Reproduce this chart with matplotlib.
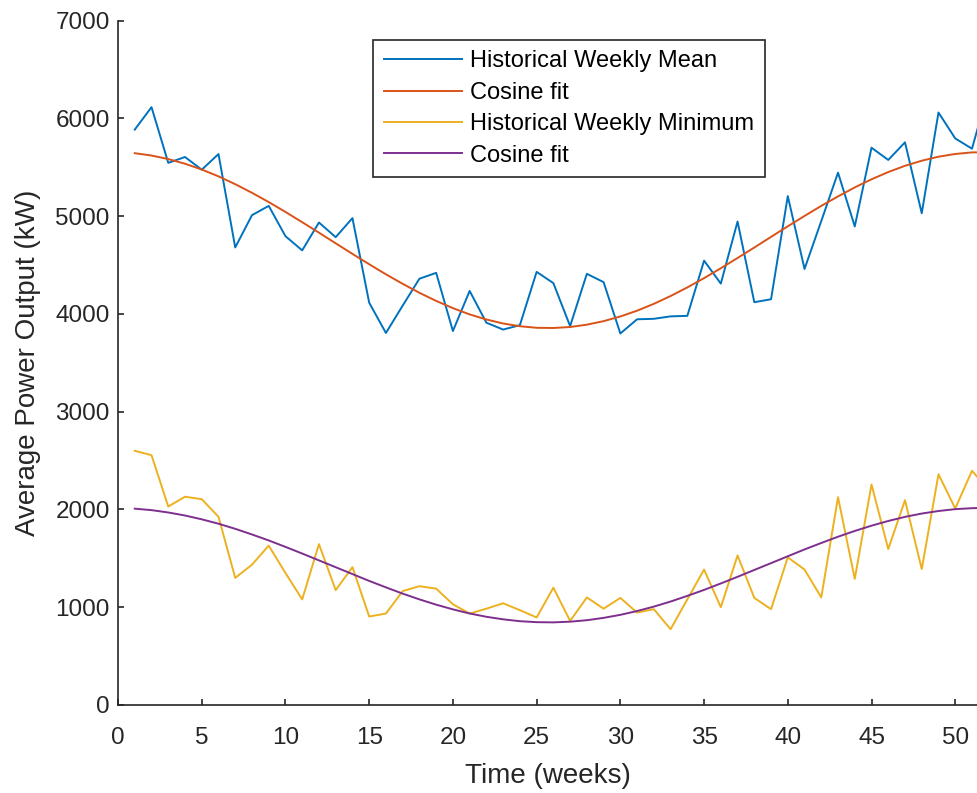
import matplotlib
matplotlib.use("Agg")
import matplotlib.pyplot as plt
import numpy as np

plt.rcParams['font.family'] = ['Liberation Sans', 'DejaVu Sans']

weeks = np.arange(1, 53)

# historical weekly mean (kW)
mean_hist = [5885, 6115, 5545, 5605, 5475, 5635, 4680, 5010, 5105, 4795,
             4650, 4935, 4785, 4980, 4115, 3805, 4085, 4360, 4420, 3825,
             4235, 3910, 3840, 3885, 4430, 4315, 3875, 4410, 4325, 3800,
             3945, 3950, 3975, 3980, 4545, 4310, 4945, 4120, 4150, 5205,
             4460, 4950, 5445, 4895, 5700, 5575, 5755, 5030, 6060, 5795,
             5690, 6300]
mean_fit = [5644, 5620, 5584, 5536, 5477, 5407, 5327, 5239, 5144, 5043,
            4938, 4831, 4722, 4614, 4508, 4405, 4308, 4216, 4133, 4059,
            3995, 3943, 3902, 3874, 3858, 3856, 3866, 3890, 3926, 3974,
            4033, 4103, 4183, 4271, 4366, 4467, 4572, 4679, 4788, 4896,
            5002, 5105, 5202, 5294, 5377, 5451, 5515, 5567, 5608, 5636,
            5652, 5654]
# historical weekly minimum (kW)
min_hist = [2600, 2555, 2030, 2130, 2105, 1925, 1300, 1435, 1630, 1350,
            1080, 1645, 1175, 1410, 905, 935, 1165, 1215, 1190, 1030,
            935, 985, 1040, 970, 895, 1200, 860, 1100, 985, 1095,
            945, 980, 775, 1080, 1385, 1000, 1530, 1095, 980, 1510,
            1385, 1100, 2125, 1290, 2255, 1595, 2095, 1390, 2360, 2010,
            2395, 2200]
# cosine fit of the minimum
min_fit = [2008, 1993, 1969, 1938, 1899, 1854, 1802, 1744, 1683, 1617,
           1549, 1479, 1409, 1339, 1269, 1203, 1139, 1080, 1026, 978,
           936, 902, 876, 857, 847, 845, 852, 867, 891, 922,
           961, 1006, 1058, 1116, 1177, 1243, 1311, 1381, 1451, 1521,
           1591, 1657, 1721, 1780, 1834, 1882, 1924, 1958, 1984, 2003,
           2013, 2015]

labels = ['Historical Weekly Mean', 'Cosine fit',
          'Historical Weekly Minimum', 'Cosine fit']

fig = plt.figure(figsize=(9.77, 7.93), dpi=100)
ax = fig.add_axes([0.1208, 0.111, 0.8792, 0.863])

lw = 1.4
ax.plot(weeks, mean_hist, color='#0072BD', lw=lw, label=labels[0])
ax.plot(weeks, mean_fit, color='#D95319', lw=lw, label=labels[1])
ax.plot(weeks, min_hist, color='#EDB120', lw=lw, label=labels[2])
ax.plot(weeks, min_fit, color='#7E2F8E', lw=lw, label=labels[3])

ax.set_xlim(0, 51.3)
ax.set_ylim(0, 7000)
ax.set_xticks(np.arange(0, 55, 5))
ax.set_yticks(np.arange(0, 8000, 1000))

axcol = '#262626'
for s in ['top', 'right']:
    ax.spines[s].set_visible(False)
for s in ['left', 'bottom']:
    ax.spines[s].set_color(axcol)
    ax.spines[s].set_linewidth(1.2)
ax.tick_params(direction='in', length=4.5, width=1.2, colors=axcol,
               labelsize=17.5)
ax.tick_params(axis='x', pad=16)
ax.tick_params(axis='y', pad=6)

ax.set_xlabel('Time (weeks)', fontsize=20, color=axcol, labelpad=10)
ax.set_ylabel('Average Power Output (kW)', fontsize=20, color=axcol, labelpad=10)

leg = ax.legend(loc='upper left', bbox_to_anchor=(0.297, 0.972), fontsize=17,
                frameon=True, fancybox=False, framealpha=1, handlelength=3.3,
                handletextpad=0.35, labelspacing=0.4, borderpad=0.45,
                borderaxespad=0)
leg.get_frame().set_edgecolor(axcol)
leg.get_frame().set_linewidth(1.2)

fig.savefig('out.png', dpi=100)
